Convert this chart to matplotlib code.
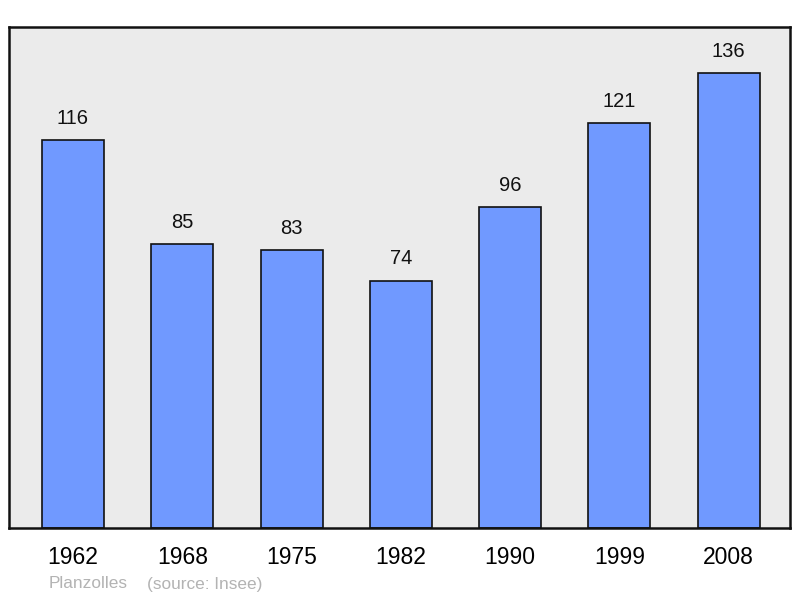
import matplotlib
matplotlib.use("Agg")
import matplotlib.pyplot as plt

years = ["1962", "1968", "1975", "1982", "1990", "1999", "2008"]
population = [116, 85, 83, 74, 96, 121, 136]
place = "Planzolles"
source = "(source: Insee)"

plt.rcParams['font.family'] = ['Liberation Sans', 'DejaVu Sans']

W, H = 800, 598
fig = plt.figure(figsize=(W/100, H/100), dpi=100)
ax = fig.add_axes([9/W, 1-528/H, 781/W, 501/H])
ax.set_facecolor('#ebebeb')

x = list(range(len(years)))
ax.bar(x, population, width=0.567, color='#7099ff', edgecolor='#111111', linewidth=1.2, zorder=2)
for xi, v in zip(x, population):
    ax.annotate(str(v), (xi, v), xytext=(0, 15.5), textcoords='offset points',
                ha='center', va='center', fontsize=14.5, color='#111111')

ax.set_xlim(-0.585, 6.56)
ax.set_ylim(0, 149.8)
ax.set_yticks([])
ax.set_xticks(x)
ax.set_xticklabels(years, fontsize=16.5)
ax.tick_params(axis='x', length=0, pad=13)
for s in ax.spines.values():
    s.set_linewidth(1.8)
    s.set_color('#111111')

fig.text(49/W, 1-584/H, place, fontsize=12.4, color='#b3b3b3', va='center', ha='left')
fig.text(147/W, 1-584/H, source, fontsize=12.4, color='#b3b3b3', va='center', ha='left')

fig.savefig("out.png", dpi=100)
